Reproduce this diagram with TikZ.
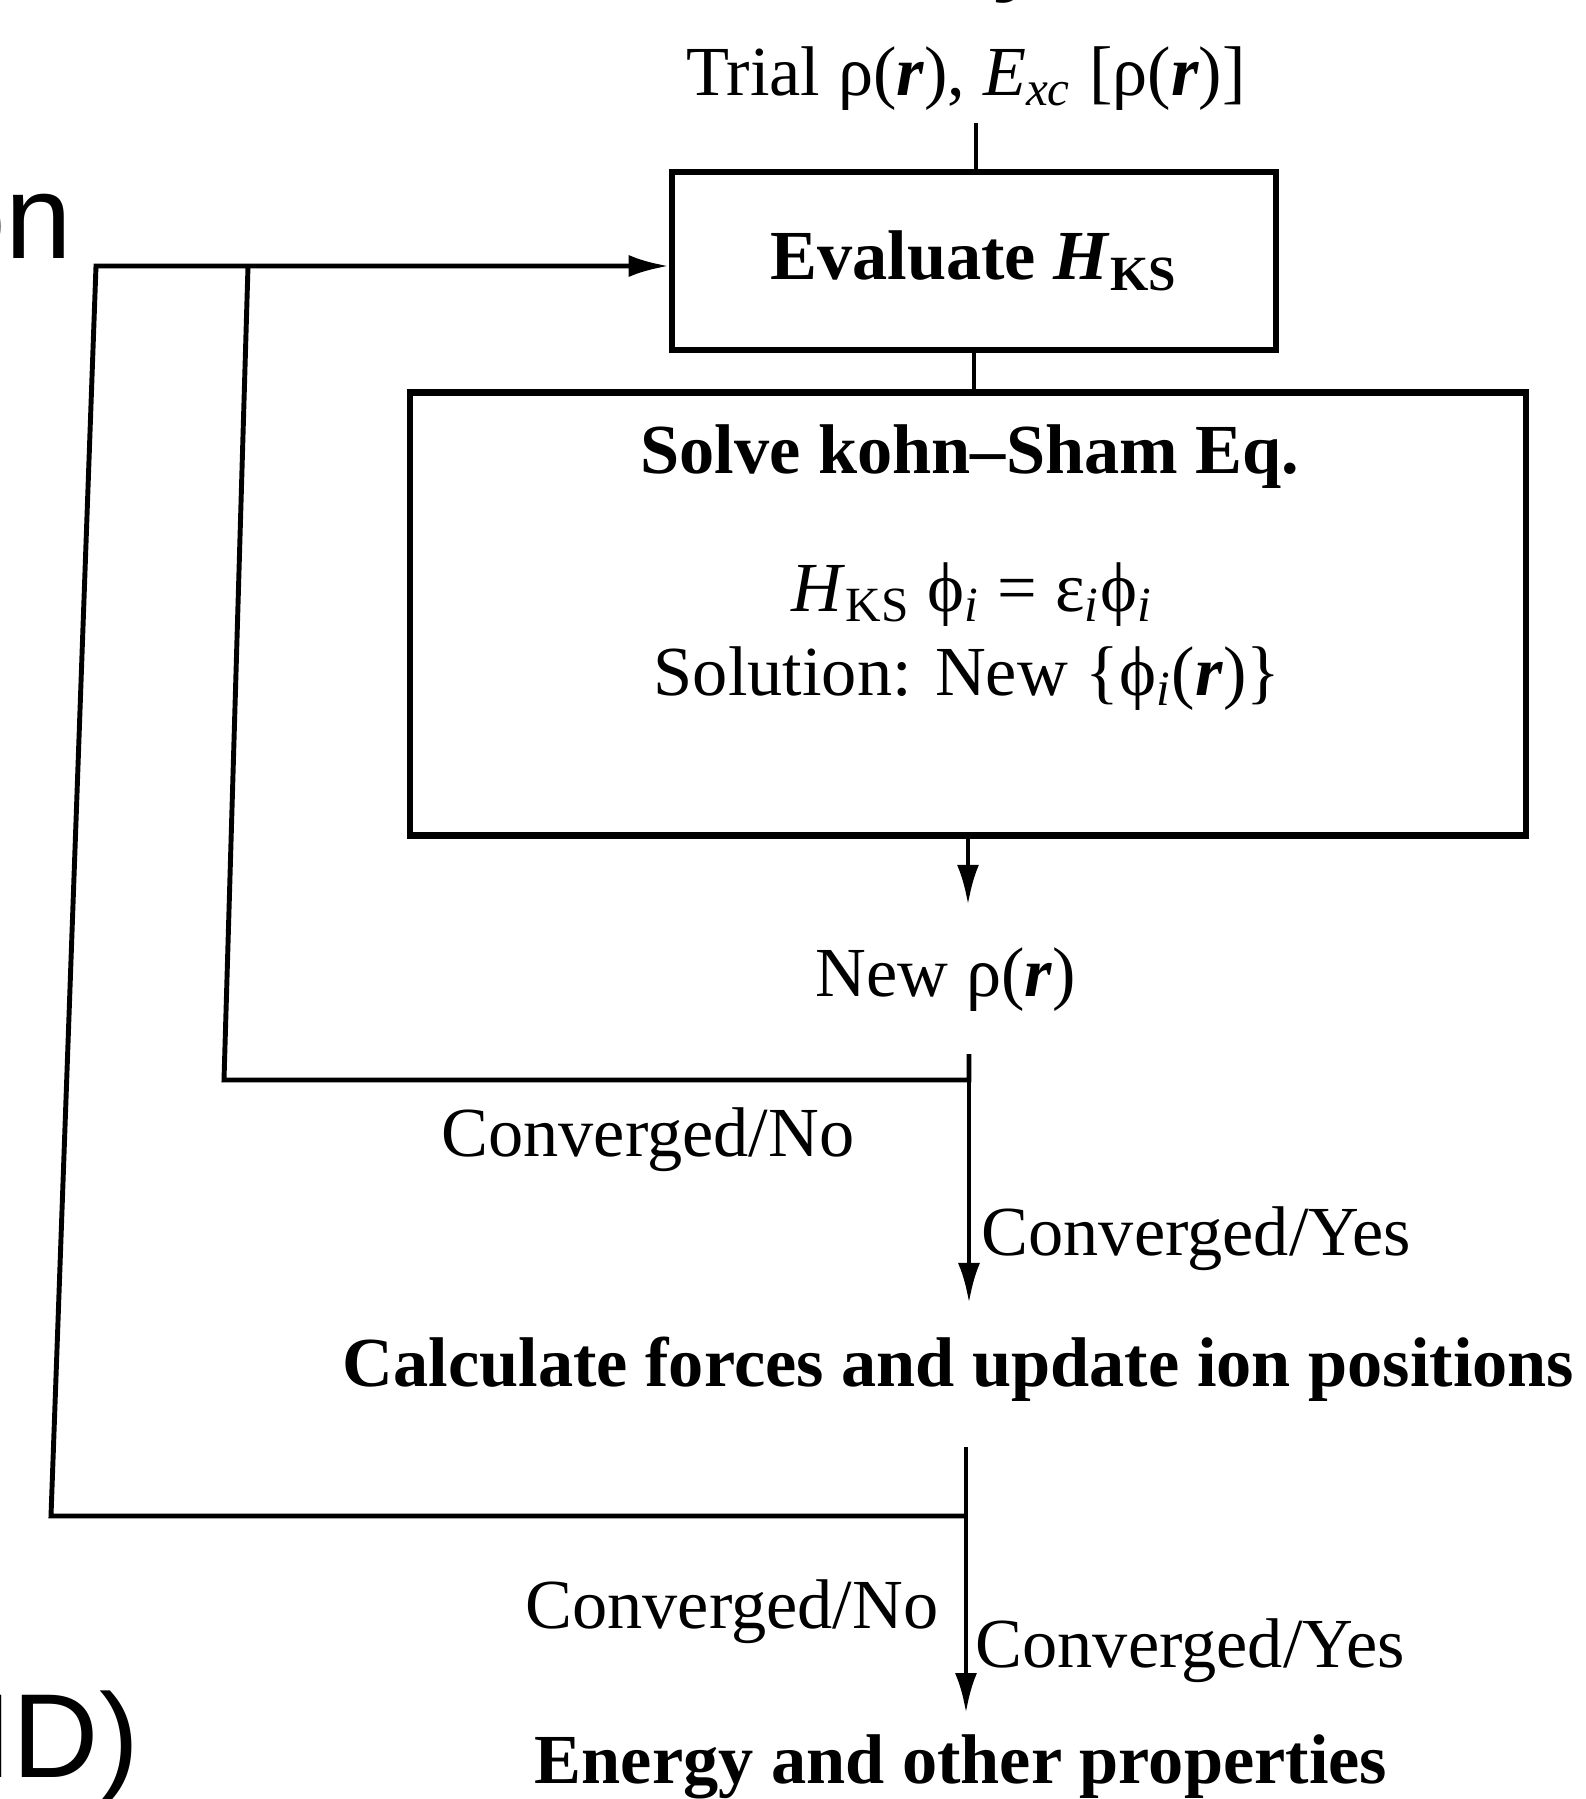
\documentclass[tikz,border=0pt]{standalone}
\usepackage{fontspec}
\setmainfont{Liberation Serif}
\newfontfamily\slidefont{Liberation Sans}
\usepackage{tikz}
\usetikzlibrary{calc, arrows.meta, positioning}
\newcommand{\flowfont}{\fontsize{20}{24}\selectfont}
\newcommand{\posr}{\textbf{\textit{r}}}
\tikzset{
  stepbox/.style={draw,line width=1.8pt,inner sep=0pt,font=\flowfont\bfseries},
  flowtext/.style={inner sep=0pt,anchor=base,font=\flowfont},
  flowbold/.style={flowtext,font=\flowfont\bfseries},
  flowline/.style={line width=1.4pt},
  flowarrow/.style={flowline,-{Latex[length=4mm,width=2.2mm]}},
  slidetext/.style={inner sep=0pt,font=\slidefont\fontsize{34}{40}\selectfont}
}

\begin{document}
\begin{tikzpicture}[x=0.01cm,y=-0.01cm]
  \useasboundingbox (0,0) rectangle (1586,1799);
  \clip (0,0) rectangle (1586,1799);
  \node[slidetext, anchor=base east] (fragon) at (73,258) {on};
  \node[slidetext, anchor=base west] (fragid) at (-21,1777) {ID)};
  \node[slidetext, anchor=base west] (fragy) at (992,-22) {y};
  \node[flowtext] (trial) at (966,95) {Trial ρ(\posr), \textit{E}\textsubscript{\textit{xc}} [ρ(\posr)]};
  \node[stepbox, minimum width=6.04cm, minimum height=1.78cm] (eval) at (974,261) {Evaluate \textit{H}\textsubscript{KS}};
  \node[stepbox, minimum width=11.15cm, minimum height=4.43cm] (solve) at (968,614) {};
  \node[flowbold] (kstitle) at (970,473) {Solve kohn–Sham Eq.};
  \node[flowtext] (kseq) at (972,611) {\textit{H}\textsubscript{KS} ϕ\textsubscript{\textit{i}} = ε\textsubscript{\textit{i}}ϕ\textsubscript{\textit{i}}};
  \node[flowtext] (kssol) at (967,695) {Solution: New \{ϕ\textsubscript{\textit{i}}(\posr)\}};
  \node[flowtext] (rho) at (946,996) {New ρ(\posr)};
  \node[flowtext, anchor=base east] (noA) at (855,1156) {Converged/No};
  \node[flowtext, anchor=base west] (yesA) at (981,1255) {Converged/Yes};
  \node[flowbold, anchor=base west] (calc) at (342,1386) {Calculate forces and update ion positions};
  \node[flowtext, anchor=base east] (noB) at (939,1628) {Converged/No};
  \node[flowtext, anchor=base west] (yesB) at (975,1667) {Converged/Yes};
  \node[flowbold] (energy) at (961,1783) {Energy and other properties};
  \coordinate (trialfoot) at (976,123);
  \coordinate (rhofoot) at (969,1054);
  \coordinate (splitA) at (969,1080);
  \coordinate (cornerA) at (224,1080);
  \coordinate (topA) at (248,266);
  \coordinate (tipA) at (969,1303);
  \coordinate (calcfoot) at (966,1447);
  \coordinate (splitB) at (966,1516);
  \coordinate (cornerB) at (51,1516);
  \coordinate (topB) at (96,266);
  \coordinate (tipB) at (966,1713);
  \draw[flowline] (trialfoot) -- (trialfoot |- eval.north);
  \draw[flowline] (eval.south) -- (eval.south |- solve.north);
  \draw[flowarrow] (solve.south) -- ++(0,66);
  \draw[flowline] (rhofoot) -- (splitA) -- (cornerA) -- (topA);
  \draw[flowarrow] (splitA) -- (tipA);
  \draw[flowline] (calcfoot) -- (splitB);
  \draw[flowarrow] (splitB) -- (cornerB) -- (topB) -- (eval.west |- topB);
  \draw[flowarrow] (splitB) -- (tipB);
\end{tikzpicture}
\end{document}
